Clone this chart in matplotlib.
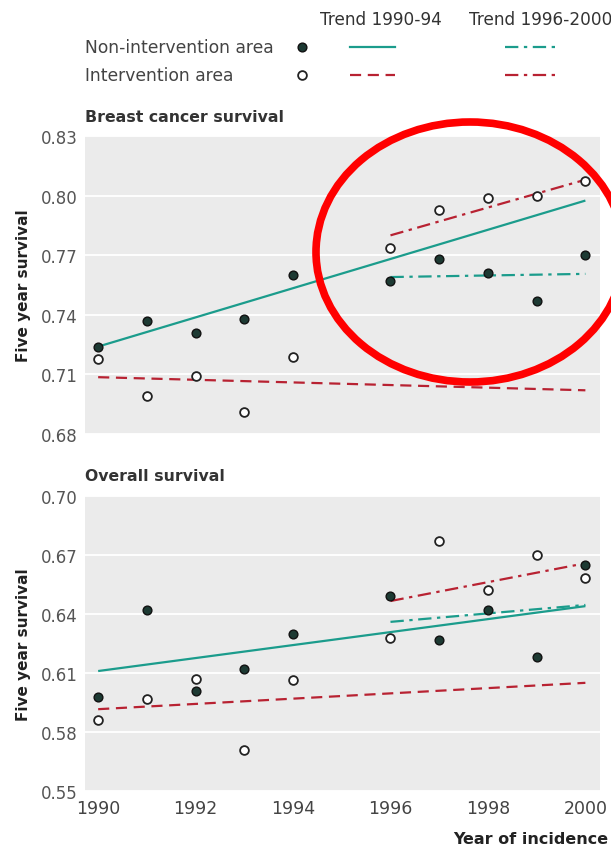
import numpy as np
import matplotlib
matplotlib.use("Agg")
from matplotlib import pyplot as plt
from matplotlib.lines import Line2D
from matplotlib.patches import Ellipse

# data
years = [1990, 1991, 1992, 1993, 1994, 1996, 1997, 1998, 1999, 2000]

# breast cancer survival
breast_non = [0.724, 0.737, 0.731, 0.738, 0.760, 0.757, 0.768, 0.761, 0.747, 0.770]
breast_int = [0.718, 0.699, 0.709, 0.691, 0.719, 0.7735, 0.793, 0.799, 0.800, 0.8075]
# overall survival
overall_non = [0.598, 0.642, 0.601, 0.612, 0.630, 0.649, 0.627, 0.642, 0.618, 0.665]
overall_int = [0.586, 0.597, 0.607, 0.571, 0.6065, 0.628, 0.677, 0.652, 0.670, 0.6585]

# trend line end points (start year, end year)
early_years = [1990, 2000]
late_years = [1996, 2000]
breast_trend_non_early = [0.724, 0.7975]
breast_trend_int_early = [0.7086, 0.702]
breast_trend_non_late = [0.759, 0.7606]
breast_trend_int_late = [0.780, 0.808]
overall_trend_non_early = [0.611, 0.644]
overall_trend_int_early = [0.5916, 0.605]
overall_trend_non_late = [0.636, 0.6446]
overall_trend_int_late = [0.6466, 0.6658]

breast_ticks = [0.68, 0.71, 0.74, 0.77, 0.80, 0.83]
overall_ticks = [0.55, 0.58, 0.61, 0.64, 0.67, 0.70]
xticks = [1990, 1992, 1994, 1996, 1998, 2000]

green = "#1b9c8c"
red = "#b82232"
dark = "#1d3a33"
bg = "#ebebeb"
dashed = (0, (5, 3))
dashdot = (0, (6, 2.5, 1.5, 2.5))

W, H = 611, 853
fig = plt.figure(figsize=(W / 100, H / 100), dpi=100)


def fx(px):
    return px / W


def fy(py):
    return 1 - py / H


def draw_panel(ax, non, inter, tne, tie, tnl, til, ticks, show_x):
    ax.set_facecolor(bg)
    for s in ax.spines.values():
        s.set_visible(False)
    ax.grid(axis="y", color="white", lw=1.3)
    ax.set_axisbelow(True)
    ax.plot(early_years, tne, color=green, lw=1.6, solid_capstyle="butt")
    ax.plot(early_years, tie, color=red, lw=1.6, ls=dashed)
    ax.plot(late_years, tnl, color=green, lw=1.6, ls=dashdot)
    ax.plot(late_years, til, color=red, lw=1.6, ls=dashdot)
    ax.plot(years, non, "o", ms=6.3, mfc=dark, mec="#111111", mew=1.0, ls="none")
    ax.plot(years, inter, "o", ms=6.3, mfc="white", mec="#222222", mew=1.3, ls="none")
    ax.set_xlim(1989.73, 2000.3)
    ax.set_ylim(ticks[0], ticks[-1])
    ax.set_yticks(ticks)
    ax.set_yticklabels(["%.2f" % t for t in ticks])
    ax.set_xticks(xticks)
    ax.tick_params(axis="y", length=0, labelsize=12, labelcolor="#555555", pad=5)
    ax.tick_params(axis="x", length=3, color="white", labelsize=12.5,
                   labelcolor="#444444", pad=3)
    if not show_x:
        ax.set_xticklabels([])
    ax.set_ylabel("Five year survival", fontsize=11, fontweight="bold",
                  color="#222222", labelpad=7)


ax1 = fig.add_axes([fx(85), fy(435), fx(600) - fx(85), fy(137) - fy(435)])
draw_panel(ax1, breast_non, breast_int, breast_trend_non_early, breast_trend_int_early,
           breast_trend_non_late, breast_trend_int_late, breast_ticks, False)
ax2 = fig.add_axes([fx(85), fy(792), fx(600) - fx(85), fy(497) - fy(792)])
draw_panel(ax2, overall_non, overall_int, overall_trend_non_early, overall_trend_int_early,
           overall_trend_non_late, overall_trend_int_late, overall_ticks, True)

fig.text(fx(85), fy(117), "Breast cancer survival", fontsize=11.3, fontweight="bold",
         color="#333333", va="center")
fig.text(fx(85), fy(477), "Overall survival", fontsize=11.3, fontweight="bold",
         color="#333333", va="center")
fig.text(fx(608), fy(840), "Year of incidence", fontsize=11.5, fontweight="bold",
         color="#222222", ha="right", va="center")

# legend table
fig.text(fx(442), fy(20), "Trend 1990-94", fontsize=12.2, color="#333333",
         ha="right", va="center")
fig.text(fx(612), fy(20), "Trend 1996-2000", fontsize=12.2, color="#333333",
         ha="right", va="center")
fig.text(fx(85), fy(48), "Non-intervention area", fontsize=12.3, color="#444444",
         va="center")
fig.text(fx(85), fy(76), "Intervention area", fontsize=12.3, color="#444444",
         va="center")
fig.add_artist(Line2D([fx(302)], [fy(48)], marker="o", ms=6.3, mfc=dark,
                      mec="#111111", ls="none"))
fig.add_artist(Line2D([fx(302)], [fy(76)], marker="o", ms=6.3, mfc="white",
                      mec="#222222", mew=1.3, ls="none"))
fig.add_artist(Line2D([fx(350), fx(395)], [fy(48), fy(48)], color=green, lw=1.6))
fig.add_artist(Line2D([fx(350), fx(395)], [fy(76), fy(76)], color=red, lw=1.6, ls=dashed))
fig.add_artist(Line2D([fx(505), fx(555)], [fy(48), fy(48)], color=green, lw=1.6, ls=dashdot))
fig.add_artist(Line2D([fx(505), fx(555)], [fy(76), fy(76)], color=red, lw=1.6, ls=dashdot))

# red annotation ring
ring = Ellipse((fx(470), fy(253)), fx(308), 260 / H, transform=fig.transFigure,
               fill=False, edgecolor="#ff0000", lw=5.5)
fig.add_artist(ring)

fig.savefig("out.png", dpi=100)
